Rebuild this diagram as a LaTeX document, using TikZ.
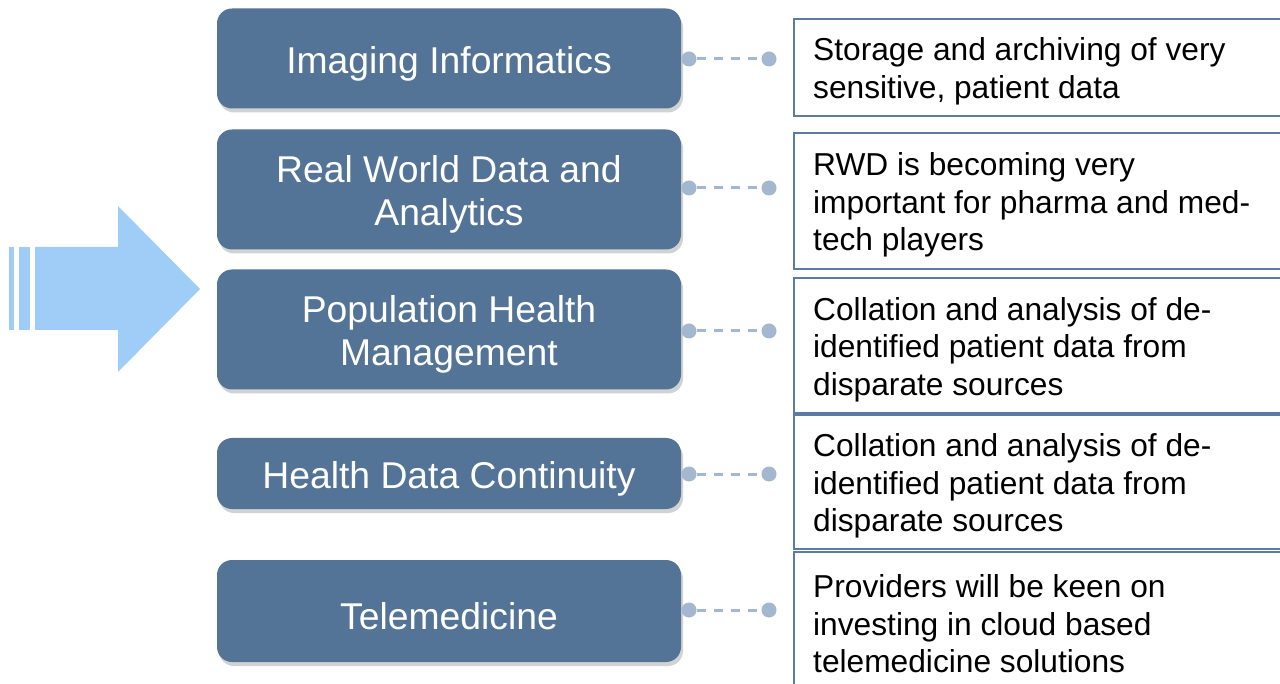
\documentclass[tikz,border=0pt]{standalone}
\usepackage{fontspec}
\setmainfont{Liberation Sans}
\usetikzlibrary{shadows}
\definecolor{boxblue}{RGB}{83,116,151}
\definecolor{arrowblue}{RGB}{159,205,248}
\definecolor{dotblue}{RGB}{163,184,207}
\definecolor{edgeblue}{RGB}{91,123,164}
\tikzset{
  catbox/.style={rectangle, rounded corners=15pt, fill=boxblue,
    minimum width=464pt, inner sep=0pt,
    drop shadow={opacity=0.35, shadow xshift=2pt, shadow yshift=-4pt}},
  cattext/.style={text=white, align=center, inner sep=0pt, yshift=-5pt,
    font=\fontsize{37.3}{43}\selectfont},
  descbox/.style={rectangle, draw=edgeblue, line width=1.5pt, fill=white,
    anchor=west, minimum width=520pt, inner sep=0pt},
  desctext/.style={text=black, align=left, inner sep=0pt, anchor=west,
    xshift=20pt, yshift=-4pt, font=\fontsize{31.7}{37.5}\selectfont},
  dotnode/.style={circle, fill=dotblue, minimum size=15pt, inner sep=0pt},
  link/.style={draw=dotblue, line width=3pt, dash pattern=on 9pt off 8pt}
}
\begin{document}
\begin{tikzpicture}[x=1pt,y=-1pt]
\useasboundingbox (0,0) rectangle (1280,684);
\clip (0,0) rectangle (1280,684);
\fill[white] (0,0) rectangle (1280,684);
% arrow
\fill[arrowblue] (35,247) -- (118,247) -- (118,206) -- (200,289) -- (118,372) -- (118,330) -- (35,330) -- cycle;
\fill[arrowblue] (9,247) rectangle (14,330);
\fill[arrowblue] (19,247) rectangle (30,330);
% category boxes
\node[catbox, minimum height=100pt] (c1) at (449,58.5) {};
\node[catbox, minimum height=120pt] (c2) at (449,189.5) {};
\node[catbox, minimum height=120pt] (c3) at (449,329.5) {};
\node[catbox, minimum height=71pt] (c4) at (449,473.5) {};
\node[catbox, minimum height=102pt] (c5) at (449,611) {};
\node[cattext] (t1) at (c1.center) {Imaging Informatics};
\node[cattext] (t2) at (c2.center) {Real World Data and\\Analytics};
\node[cattext] (t3) at (c3.center) {Population Health\\Management};
\node[cattext] (t4) at (c4.center) {Health Data Continuity};
\node[cattext] (t5) at (c5.center) {Telemedicine};
% description boxes
\node[descbox, minimum height=97pt] (d1) at (793,67.5) {};
\node[descbox, minimum height=136pt] (d2) at (793,201) {};
\node[descbox, minimum height=135pt] (d3) at (793,345.5) {};
\node[descbox, minimum height=134pt] (d4) at (793,482) {};
\node[descbox, minimum height=136pt] (d5) at (793,620) {};
\node[desctext] (e1) at (d1.west) {Storage and archiving of very\\sensitive, patient data};
\node[desctext] (e2) at (d2.west) {RWD is becoming very\\important for pharma and med-\\tech players};
\node[desctext] (e3) at (d3.west) {Collation and analysis of de-\\identified patient data from\\disparate sources};
\node[desctext] (e4) at (d4.west) {Collation and analysis of de-\\identified patient data from\\disparate sources};
\node[desctext] (e5) at (d5.west) {Providers will be keen on\\investing in cloud based\\telemedicine solutions};
% connectors
\foreach \i/\y in {1/59,2/188,3/331,4/474,5/610}{
  \node[dotnode] (a\i) at (689,\y) {};
  \node[dotnode] (b\i) at (769,\y) {};
  \draw[link] (a\i.east) -- (b\i.west);
}
\end{tikzpicture}
\end{document}
